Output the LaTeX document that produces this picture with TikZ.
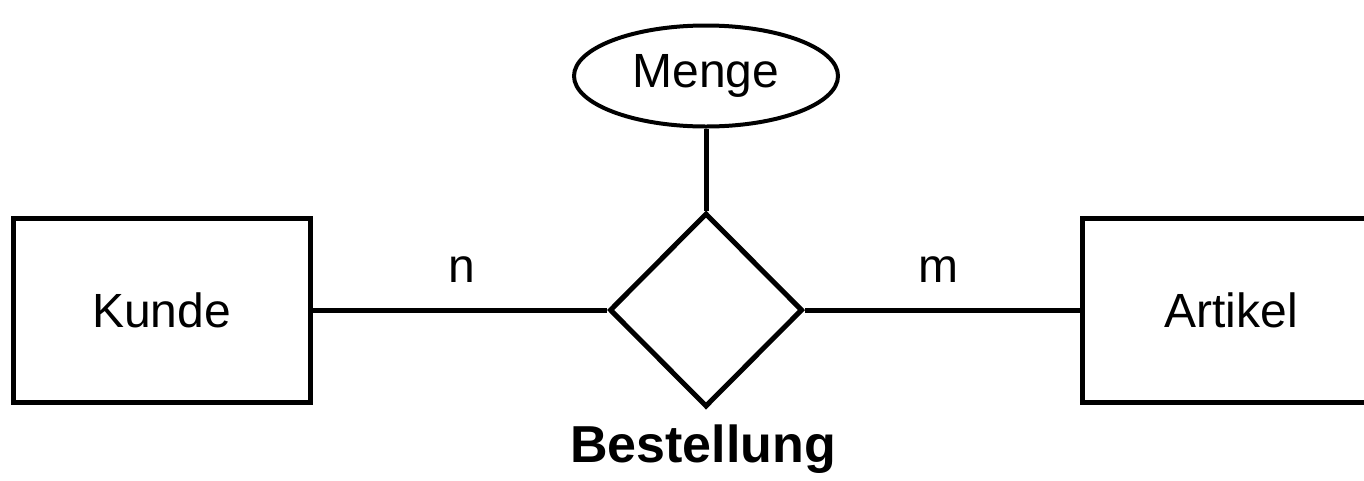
\documentclass[tikz,border=0pt]{standalone}
\usepackage{fontspec}
\setmainfont{Liberation Sans}
\usetikzlibrary{shapes.geometric}
\begin{document}
\begin{tikzpicture}[x=1pt,y=-1pt,
  every node/.style={font=\fontsize{48}{56}\selectfont},
  ent/.style={draw,line width=5pt,minimum width=297pt,minimum height=184pt,inner sep=0pt},
  rel/.style={draw,line width=5pt,diamond,minimum width=193pt,minimum height=194pt,inner sep=0pt},
  attr/.style={draw,line width=4pt,ellipse,minimum width=264pt,minimum height=101pt,inner sep=0pt},
  conn/.style={line width=5pt}]
\useasboundingbox (0,0) rectangle (1364,480);
\node[ent] (kunde) at (161.5,310) {Kunde};
\node[ent] (artikel) at (1231,310) {Artikel};
\node[rel] (best) at (706,310) {};
\node[attr] (menge) at (706,76) {Menge};
\node[font=\fontsize{52}{60}\selectfont\bfseries] (bl) at (703,449) {Bestellung};
\node (n) at (462,270) {n};
\node (m) at (938,270) {m};
\draw[conn] (kunde.east) -- (best.west);
\draw[conn] (best.east) -- (artikel.west);
\draw[conn] (menge.south) -- (best.north);
\end{tikzpicture}
\end{document}
